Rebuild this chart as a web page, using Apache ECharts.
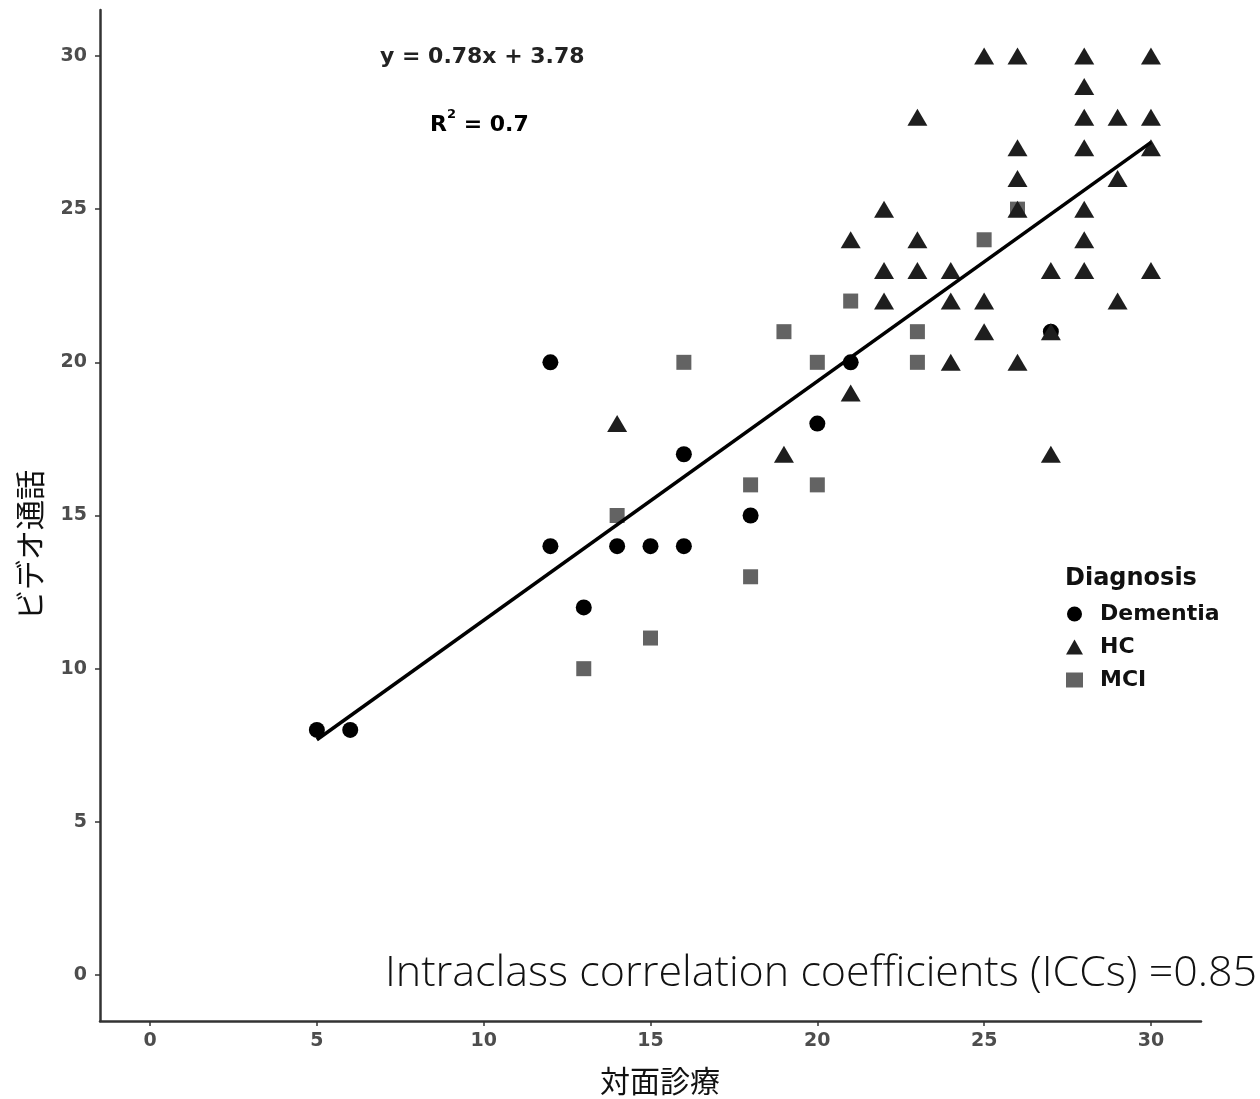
<!DOCTYPE html>
<html>
<head>
<meta charset="utf-8">
<script src="https://cdn.jsdelivr.net/npm/echarts@6/dist/echarts.min.js"></script>
<style>
html,body{margin:0;padding:0;background:#fff;}
#chart{width:1260px;height:1099px;}
</style>
</head>
<body>
<div id="chart"></div>
<script>
// ---- data ----
const xTicks = [0, 5, 10, 15, 20, 25, 30];
const yTicks = [0, 5, 10, 15, 20, 25, 30];

const dementiaX = [5, 6, 12, 12, 13, 14, 15, 16, 16, 18, 20, 21, 27];
const dementiaY = [8, 8, 20, 14, 12, 14, 14, 14, 17, 15, 18, 20, 21];

const mciX = [13, 14, 15, 16, 18, 18, 19, 20, 20, 21, 23, 23, 25, 26];
const mciY = [10, 15, 11, 20, 16, 13, 21, 20, 16, 22, 21, 20, 24, 25];

const hcX = [14, 19, 21, 21, 22, 22, 22, 23, 23, 23, 24, 24, 24, 25, 25, 25,
             26, 26, 26, 26, 26, 27, 27, 27, 28, 28, 28, 28, 28, 28, 28,
             29, 29, 29, 30, 30, 30, 30];
const hcY = [18, 17, 24, 19, 25, 23, 22, 28, 24, 23, 23, 22, 20, 30, 22, 21,
             30, 27, 26, 25, 20, 23, 21, 17, 30, 29, 28, 27, 25, 24, 23,
             28, 26, 22, 30, 28, 27, 23];

// fitted line endpoints (y = 0.78x + 3.78, drawn from x=5 to x=30)
const fitX = [5, 30];
const fitY = [7.68, 27.18];

const xAxisTitle = '対面診療';
const yAxisTitle = 'ビデオ通話';
const legendTitle = 'Diagnosis';
const equationText = 'y = 0.78x + 3.78';
const iccText = 'Intraclass correlation coefficients (ICCs) =0.85';

const pairs = (xs, ys) => xs.map((x, i) => [x, ys[i]]);

const BOLD_FONT = '"DejaVu Sans", "Liberation Sans", sans-serif';
const CJK_FONT = '"Noto Sans CJK JP", "Noto Sans", sans-serif';

const chart = echarts.init(document.getElementById('chart'));
const tickLabelStyle = {
  color: '#4d4d4d', fontSize: 19, fontWeight: 'bold', fontFamily: BOLD_FONT
};
chart.setOption({
  animation: false,
  backgroundColor: '#ffffff',
  grid: { left: 100, top: 10, width: 1101, height: 1011, containLabel: false },
  xAxis: {
    type: 'value', min: -1.5, max: 31.5,
    axisLine: { show: true, onZero: false, lineStyle: { color: '#333', width: 2.5 } },
    axisTick: { show: true, length: 5, lineStyle: { color: '#333', width: 1.5 }, customValues: xTicks },
    axisLabel: Object.assign({ margin: 11, customValues: xTicks }, tickLabelStyle),
    splitLine: { show: false }
  },
  yAxis: {
    type: 'value', min: -1.5, max: 31.5,
    axisLine: { show: true, onZero: false, lineStyle: { color: '#333', width: 2.5 } },
    axisTick: { show: true, length: 5, lineStyle: { color: '#333', width: 1.5 }, customValues: yTicks },
    axisLabel: Object.assign({ margin: 13, customValues: yTicks }, tickLabelStyle),
    splitLine: { show: false }
  },
  legend: {
    orient: 'vertical', left: 1061, top: 596,
    itemWidth: 17, itemHeight: 15, itemGap: 7,
    textStyle: { fontSize: 22, color: '#111', fontWeight: 'bold', fontFamily: BOLD_FONT,
      lineHeight: 26, padding: [0, 0, 0, 12] },
    data: [
      { name: 'Dementia', icon: 'circle' },
      { name: 'HC', icon: 'triangle' },
      { name: 'MCI', icon: 'rect', itemStyle: { borderWidth: 0 } }
    ]
  },
  series: [
    {
      name: 'Dementia', type: 'scatter', symbol: 'circle', symbolSize: 16,
      itemStyle: { color: '#000000', opacity: 1 }, z: 3,
      data: pairs(dementiaX, dementiaY)
    },
    {
      name: 'HC', type: 'scatter', symbol: 'triangle', symbolSize: [20, 17],
      itemStyle: { color: '#1e1e1e', opacity: 1 }, z: 4,
      data: pairs(hcX, hcY)
    },
    {
      name: 'MCI', type: 'scatter', symbol: 'rect', symbolSize: 15,
      itemStyle: { color: '#636363', opacity: 1 }, z: 2,
      data: pairs(mciX, mciY)
    },
    {
      name: 'fit', type: 'line', showSymbol: false, symbol: 'none', z: 5,
      lineStyle: { color: '#000', width: 3.5 },
      data: pairs(fitX, fitY), legendHoverLink: false, silent: true
    }
  ],
  graphic: [
    {
      type: 'text', x: 1065, y: 579,
      style: { text: legendTitle, fontSize: 24, fontWeight: 'bold', fill: '#111',
        fontFamily: BOLD_FONT, textVerticalAlign: 'middle' }
    },
    {
      type: 'text', x: 380, y: 57,
      style: { text: equationText, fontSize: 22, fontWeight: 'bold', fill: '#222',
        fontFamily: BOLD_FONT, textVerticalAlign: 'middle' }
    },
    {
      type: 'text', x: 430, y: 122,
      style: {
        text: '{b|R}{s|2}{b| = 0.7}',
        textVerticalAlign: 'middle',
        rich: {
          b: { fontSize: 22, fontWeight: 'bold', color: '#222', fontFamily: BOLD_FONT,
            verticalAlign: 'bottom', lineHeight: 28 },
          s: { fontSize: 13, fontWeight: 'bold', color: '#222', fontFamily: BOLD_FONT,
            verticalAlign: 'top', lineHeight: 28 }
        }
      }
    },
    {
      type: 'text', x: 385, y: 974,
      style: { text: iccText, fontSize: 43, fill: '#111',
        fontFamily: '"Open Sans", "Noto Sans", sans-serif', fontWeight: 300, textVerticalAlign: 'middle' }
    },
    {
      type: 'text', x: 660, y: 1081,
      style: { text: xAxisTitle, fontSize: 30, fill: '#111', fontFamily: CJK_FONT,
        textAlign: 'center', textVerticalAlign: 'middle' }
    },
    {
      type: 'text', x: 30, y: 545, rotation: Math.PI / 2,
      style: { text: yAxisTitle, fontSize: 30, fill: '#111', fontFamily: CJK_FONT,
        textAlign: 'center', textVerticalAlign: 'middle' }
    }
  ]
});
</script>
</body>
</html>
